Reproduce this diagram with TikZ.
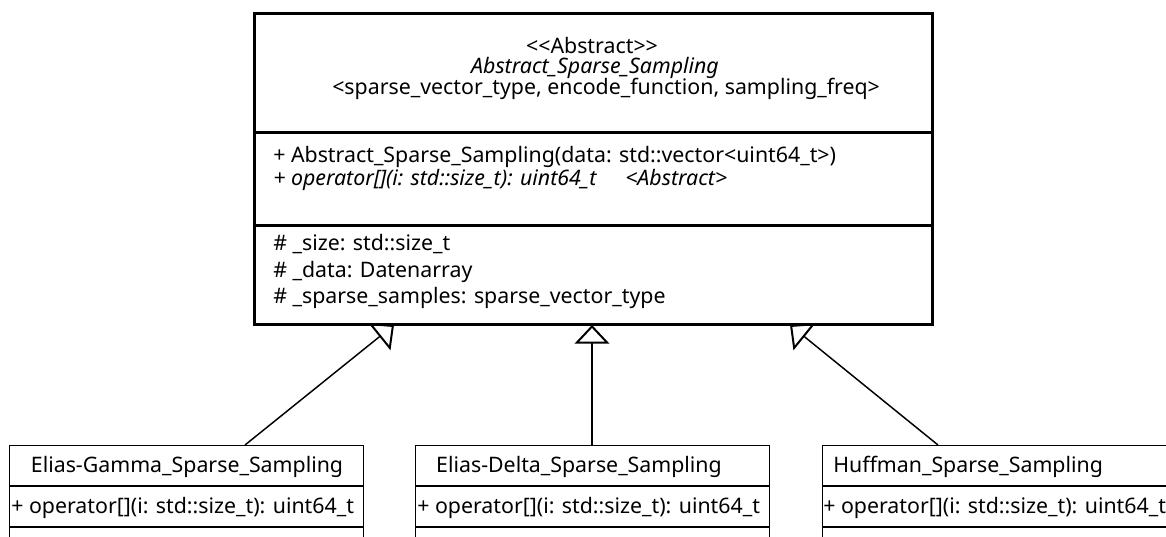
\documentclass[tikz,border=0pt]{standalone}
\usepackage{fontspec}
\setmainfont{Noto Sans}
\usetikzlibrary{arrows.meta}
\newcommand{\dlt}{<\kern0pt<}
\newcommand{\dgt}{>\kern0pt>}
\begin{document}
\begin{tikzpicture}[x=0.75pt,y=-0.75pt,
  txt/.style={font=\fontsize{16}{19}\selectfont, inner sep=0pt, text=black, anchor=base},
  ltxt/.style={txt, anchor=base west},
  absbox/.style={draw=black, line width=2.25pt, inner sep=0pt, anchor=north west,
    minimum width=508.5pt, minimum height=233.25pt},
  subbox/.style={draw=black, line width=0.9pt, inner sep=0pt, anchor=north west,
    minimum width=265.5pt, minimum height=97.5pt},
  inherit/.style={draw=black, line width=1.1pt,
    -{Triangle[open, length=14pt, width=26pt, line width=1.5pt]}}]
\clip (0,0) rectangle (1166,536);
\fill[white] (0,0) rectangle (1166,536);

% abstract class
\node[absbox] (abs) at (253,12) {};
\draw[line width=2.25pt] (253,132) -- (931,132);
\draw[line width=2.25pt] (253,225) -- (931,225);
\node[txt] (st) at (592,53) {\dlt Abstract\dgt};
\node[txt] (nm) at (595,73.5) {\itshape Abstract\_Sparse\_Sampling};
\node[ltxt] (tp) at (332,94) {<sparse\_vector\_type, encode\_function, sampling\_freq>};
\node[ltxt] (m1) at (273,162) {+ Abstract\_Sparse\_Sampling(data: std::vector<uint64\_t>)};
\node[ltxt] (m2) at (273,185) {\itshape + operator[](i: std::size\_t): uint64\_t};
\node[ltxt] (m2b) at (625,185) {\itshape <Abstract>};
\node[ltxt] (a1) at (273,250) {\# \_size: std::size\_t};
\node[ltxt] (a2) at (273,277) {\# \_data: Datenarray};
\node[ltxt] (a3) at (273,303) {\# \_sparse\_samples: sparse\_vector\_type};

% subclasses
\node[subbox] (gamma) at (9,445) {};
\draw[line width=0.9pt] (9,486) -- (363,486);
\draw[line width=0.9pt] (9,527) -- (363,527);
\node[txt] (gh) at (187,472) {Elias-Gamma\_Sparse\_Sampling};
\node[ltxt] (gm) at (11,513) {+ operator[](i: std::size\_t): uint64\_t};

\node[subbox] (delta) at (415,445) {};
\draw[line width=0.9pt] (415,486) -- (769,486);
\draw[line width=0.9pt] (415,527) -- (769,527);
\node[txt] (dh) at (579,472) {Elias-Delta\_Sparse\_Sampling};
\node[ltxt] (dm) at (417,513) {+ operator[](i: std::size\_t): uint64\_t};

\node[subbox] (huff) at (822,445) {};
\draw[line width=0.9pt] (822,486) -- (1176,486);
\draw[line width=0.9pt] (822,527) -- (1176,527);
\node[ltxt] (hh) at (833,472) {Huffman\_Sparse\_Sampling};
\node[ltxt] (hm) at (823,513) {+ operator[](i: std::size\_t): uint64\_t};

% connectors
\coordinate (gs) at (245,445);
\coordinate (ds) at (592,445);
\coordinate (hs) at (938,445);
\coordinate (t1) at (394,325);
\coordinate (t2) at (592,325);
\coordinate (t3) at (790,325);
\draw[inherit] (gs) -- (t1);
\draw[inherit] (ds) -- (t2);
\draw[inherit] (hs) -- (t3);
\end{tikzpicture}
\end{document}
